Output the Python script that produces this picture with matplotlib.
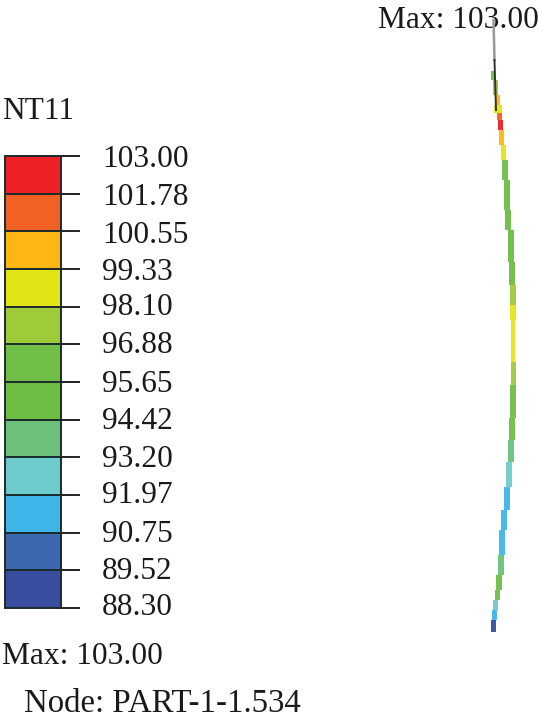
"""
NT11 contour legend and temperature strip along the part
"""

import numpy as np
import matplotlib as mpl
mpl.use('Agg')
import matplotlib.pyplot as plt

# legend values, top to bottom
legend_values = [103.00, 101.78, 100.55, 99.33, 98.10, 96.88, 95.65,
                 94.42, 93.20, 91.97, 90.75, 89.52, 88.30]
legend_labels = ['103.00', '101.78', '100.55', '99.33', '98.10', '96.88', '95.65',
                 '94.42', '93.20', '91.97', '90.75', '89.52', '88.30']
band_colors = ['#ee2028', '#f26124', '#fdb713', '#e2e515', '#9fcb3b', '#70be46',
               '#6dbd45', '#6cc07a', '#6ecbcb', '#3eb5e8', '#3c68b0', '#3a4e9f']

# strip: top, bottom, centre x (pixels), legend band
strip_top = [71, 80, 95, 105, 113, 120, 130, 145, 160, 180, 210, 230, 262, 285,
             305, 320, 362, 385, 418, 440, 462, 487, 510, 530, 555, 575, 590,
             600, 610, 620]
strip_bot = [80, 95, 105, 113, 120, 130, 145, 160, 180, 210, 230, 262, 285, 305,
             320, 362, 385, 418, 440, 462, 487, 510, 530, 555, 575, 590, 600,
             610, 620, 632]
strip_x = [492.5, 495, 497, 497.5, 499.5, 500, 501.5, 503, 505, 506.5, 508, 510.5,
           512, 513, 512.5, 513, 513, 512.5, 511.5, 510.5, 508.5, 507, 504, 502,
           501, 499, 497, 495, 494, 493]
strip_band = [5, 4, 2, 3, 1, 0, 2, 3, 5, 5, 6, 6, 6, 4, 3, 3, 4, 5, 5, 7, 8, 9,
              9, 9, 7, 5, 5, 8, 9, 11]
strip_w = [4, 5, 5, 8, 5, 5, 5, 5, 6, 6, 6, 6, 6, 6, 6, 4.5, 5, 6, 6, 6, 6, 6, 6,
           6, 6, 6, 5, 5, 5, 5]

# layout in pixels
fig_w = 539
fig_h = 724
leg_left = 5
leg_right = 61
tick_end = 80
leg_top = 156
leg_bot = 608
ftsize = 22.6
label_base = [167, 205, 243, 280, 315, 353, 392, 429, 467, 503, 542, 579, 615]

plt.rc('font', family=['Liberation Serif', 'DejaVu Serif'], size=ftsize)

fig = plt.figure(figsize=(fig_w/100, fig_h/100), dpi=100)
ax = fig.add_axes([0, 0, 1, 1])
ax.set_xlim(0, fig_w)
ax.set_ylim(fig_h, 0)
ax.axis('off')

# value to pixel row on the legend
val_y = np.interp(legend_values, [88.30, 103.00], [leg_bot, leg_top])

ax.bar(
        [(leg_left+leg_right)/2]*len(band_colors),
        np.diff(val_y),
        bottom=val_y[:-1],
        width=leg_right-leg_left,
        color=band_colors,
        edgecolor='#1c2b2b',
        linewidth=1.4)
ax.hlines(val_y, leg_right, tick_end, color='#222222', lw=1.4)

for lab, yb in zip(legend_labels, label_base):
    ax.text(102, yb, lab, ha='left', va='baseline', color='#1a1a1a')

ax.text(2, 119, 'NT11', color='#1a1a1a')
ax.text(2, 664, 'Max: 103.00', color='#1a1a1a')
ax.text(24, 712, 'Node: PART-1-1.534', color='#1a1a1a', fontsize=23.7)
ax.text(378, 27.5, 'Max: 103.00', color='#1a1a1a')

# strip
ax.bar(
        strip_x,
        np.array(strip_bot)-np.array(strip_top),
        bottom=strip_top,
        width=strip_w,
        color=[band_colors[b] for b in strip_band],
        linewidth=0,
        alpha=0.95)

# max marker line
ax.plot([493.5, 494.5], [20, 60], color='#999999', lw=1.8, zorder=3)
ax.plot([494.5, 496], [60, 110], color='#333333', lw=1.4, zorder=3)

fig.savefig('out.png', dpi=100)
plt.close('all')
